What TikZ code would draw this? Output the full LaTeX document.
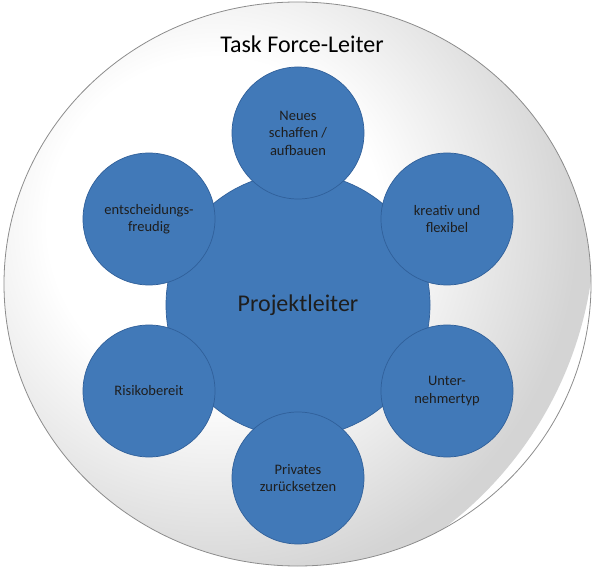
\documentclass[tikz,border=0pt]{standalone}
\usepackage{fontspec}
\setmainfont{Carlito}
\definecolor{blaufill}{HTML}{4179B8}
\definecolor{blaurand}{HTML}{30609A}
\definecolor{schrift}{HTML}{1E1E1E}
\pgfdeclareradialshading{hintergrund}{\pgfpoint{0bp}{0bp}}{color(0bp)=(white); color(11bp)=(white); color(24bp)=(black!17); color(50bp)=(black!17)}
\tikzset{
 kreis/.style={circle,draw=blaurand,line width=0.7pt,fill=blaufill,text=schrift,align=center,inner sep=0pt,minimum size=132pt,font=\fontsize{14.5}{17.5}\selectfont},
}
\begin{document}
\begin{tikzpicture}[x=1pt,y=1pt]
 \useasboundingbox (0,0) rectangle (596,570);
 % aeusserer Kreis
 \begin{scope}
  \clip (297.5,286) ellipse [x radius=293.5,y radius=282];
  \shade[shading=hintergrund] (215,345) circle (380);
 \end{scope}
 \draw[black!45,line width=0.8pt] (297.5,286) ellipse [x radius=293.5,y radius=282];
 \node[font=\fontsize{24}{28}\selectfont,text=black] (titel) at (302,526) {Task Force-Leiter};
 % Mitte
 \node[kreis,minimum size=264pt,font=\fontsize{24}{28}\selectfont] (pl) at (298,265) {Projektleiter};
 % Eigenschaften
 \node[kreis] (neues) at (298,437) {Neues\\schaffen /\\aufbauen};
 \node[kreis] (kreativ) at (447,351) {kreativ und\\flexibel};
 \node[kreis] (unter) at (447,179) {Unter-\\nehmertyp};
 \node[kreis] (privat) at (298,92) {Privates\\zurücksetzen};
 \node[kreis] (risiko) at (149,179) {Risikobereit};
 \node[kreis] (entsch) at (149,351) {entscheidungs-\\freudig};
\end{tikzpicture}
\end{document}
